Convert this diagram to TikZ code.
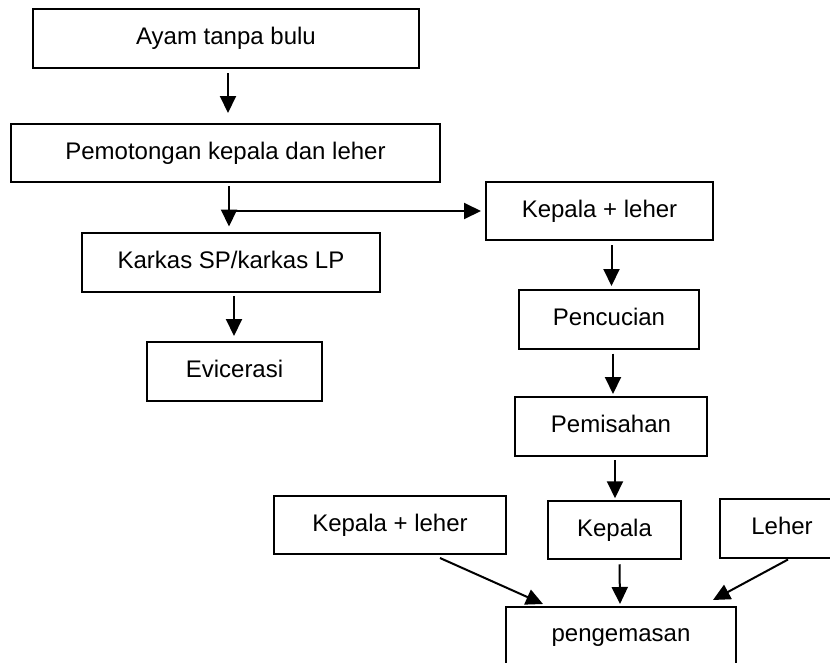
\documentclass[tikz,border=0pt]{standalone}
\usepackage{fontspec}
\setmainfont{Liberation Sans}
\usetikzlibrary{arrows.meta}
\begin{document}
\begin{tikzpicture}[x=1pt,y=-1pt,
  font=\fontsize{24}{28}\selectfont,
  stepbox/.style={draw=black, line width=2pt, rectangle, inner sep=0pt,
    text height=17pt, text depth=5pt, align=center},
  arr/.style={line width=2pt, -{Triangle[length=17pt,width=16pt]}}]
\useasboundingbox (0,0) rectangle (830,662);
\clip (0,0) rectangle (830,662);
\fill[white] (0,0) rectangle (830,662);

% left column
\node[stepbox, minimum width=386pt, minimum height=59pt] (b1) at (226,38.5) {Ayam tanpa bulu};
\node[stepbox, minimum width=429pt, minimum height=58pt] (b2) at (225.5,153) {Pemotongan kepala dan leher};
\node[stepbox, minimum width=298pt, minimum height=59pt] (karkas) at (231,262) {Karkas SP/karkas LP};
\node[stepbox, minimum width=175pt, minimum height=59pt] (evic) at (234.5,371.5) {Evicerasi};

% right column
\node[stepbox, minimum width=227pt, minimum height=58pt] (kl) at (599.5,211) {Kepala + leher};
\node[stepbox, minimum width=180pt, minimum height=59pt] (penc) at (609,319.5) {Pencucian};
\node[stepbox, minimum width=192pt, minimum height=59pt] (pemis) at (611,426.5) {Pemisahan};

% products
\node[stepbox, minimum width=232pt, minimum height=58pt] (kl2) at (390,525) {Kepala + leher};
\node[stepbox, minimum width=133pt, minimum height=58.5pt] (kep) at (614.5,530) {Kepala};
\node[stepbox, minimum width=124pt, minimum height=59pt] (leher) at (782,528.5) {Leher};
\node[stepbox, minimum width=230pt, anchor=north, inner ysep=17pt, text depth=43pt] (peng) at (621,606) {pengemasan};

% connectors
\draw[arr] ([xshift=2pt,yshift=-4pt]b1.south) -- ([xshift=2.5pt,yshift=10pt]b2.north);
\coordinate (split) at ([xshift=3.5pt,yshift=-3pt]b2.south);
\draw[arr] (split) -- ([xshift=-2pt,yshift=5pt]karkas.north);
\draw[arr] (split |- kl.west) -- ([xshift=-4pt]kl.west);
\draw[arr] ([xshift=3pt,yshift=-3.5pt]karkas.south) -- ([xshift=-0.5pt,yshift=5pt]evic.north);
\draw[arr] ([xshift=12pt,yshift=-4pt]kl.south) -- ([xshift=2.5pt,yshift=3pt]penc.north);
\draw[arr] ([xshift=4pt,yshift=-3.7pt]penc.south) -- ([xshift=2pt,yshift=2pt]pemis.north);
\draw[arr] ([xshift=4pt,yshift=-3pt]pemis.south) -- ([xshift=0.5pt,yshift=1.5pt]kep.north);
\draw[arr] ([xshift=50pt,yshift=-3pt]kl2.south) -- ([xshift=-78pt,yshift=2pt]peng.north);
\draw[arr] ([xshift=5pt,yshift=-4pt]kep.south) -- ([xshift=-1pt,yshift=2pt]peng.north);
\draw[arr] ([xshift=6pt,yshift=-0.5pt]leher.south) -- ([xshift=92pt,yshift=6pt]peng.north);
\end{tikzpicture}
\end{document}
